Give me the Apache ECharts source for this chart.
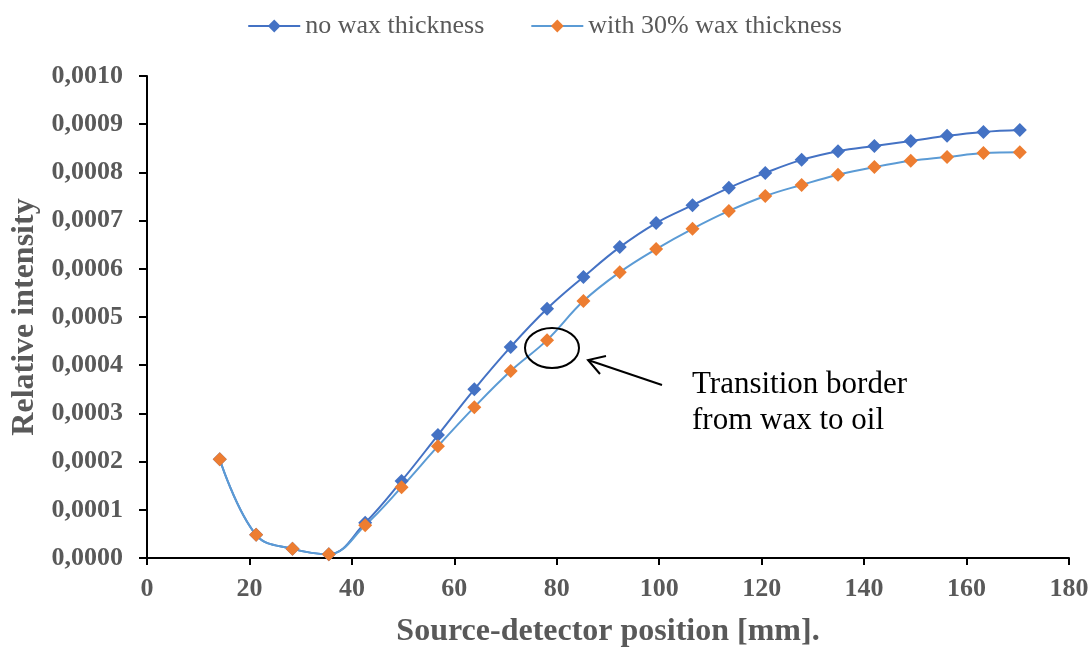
<!DOCTYPE html>
<html>
<head>
<meta charset="utf-8">
<script src="https://cdn.jsdelivr.net/npm/echarts@6/dist/echarts.min.js"></script>
<style>
  html, body { margin: 0; padding: 0; background: #fff; }
  #chart { width: 1089px; height: 648px; }
</style>
</head>
<body>
<div id="chart"></div>
<script>
// source-detector positions (mm)
const positions = [14.2, 21.3, 28.4, 35.5, 42.6, 49.7, 56.8, 63.9, 71.0, 78.1, 85.2, 92.3,
  99.4, 106.5, 113.6, 120.7, 127.8, 134.9, 142.0, 149.1, 156.2, 163.3, 170.4];

// relative intensity
const noWax = [0.000205, 0.000048, 0.000019, 0.000008, 0.000073, 0.000160, 0.000255, 0.000350,
  0.000438, 0.000517, 0.000583, 0.000645, 0.000695, 0.000732, 0.000768, 0.000799, 0.000826,
  0.000844, 0.000855, 0.000865, 0.000876, 0.000884, 0.000888];
const wax30 = [0.000205, 0.000048, 0.000019, 0.000008, 0.000068, 0.000147, 0.000232, 0.000313,
  0.000388, 0.000452, 0.000533, 0.000593, 0.000641, 0.000683, 0.000720, 0.000751, 0.000774,
  0.000795, 0.000811, 0.000824, 0.000832, 0.000840, 0.000842];

const seriesNames = ['no wax thickness', 'with 30% wax thickness'];

const serif = '"Liberation Serif", "Times New Roman", serif';
const grey = '#595959';

const chart = echarts.init(document.getElementById('chart'));

const toPairs = ys => positions.map((x, i) => [x, ys[i]]);

const axisBase = {
  axisLine: { show: true, lineStyle: { color: '#000', width: 2 } },
  splitLine: { show: false },
  nameLocation: 'middle',
  nameTextStyle: { fontFamily: serif, fontWeight: 'bold', fontSize: 32, color: grey }
};

const option = {
  animation: false,
  backgroundColor: '#fff',
  grid: { left: 147, right: 20, top: 76, bottom: 90, containLabel: false, outerBoundsMode: 'none' },
  legend: {
    top: 8,
    left: 'center',
    itemWidth: 52,
    itemHeight: 16,
    itemGap: 46,
    data: seriesNames,
    textStyle: { fontFamily: serif, fontSize: 26, color: grey }
  },
  xAxis: Object.assign({}, axisBase, {
    type: 'value',
    min: 0,
    max: 180,
    interval: 20,
    name: 'Source-detector position [mm].',
    nameGap: 58,
    axisTick: { show: true, length: 7, lineStyle: { color: '#000', width: 2 } },
    axisLabel: { margin: 18, fontFamily: serif, fontWeight: 'bold', fontSize: 26, color: grey }
  }),
  yAxis: Object.assign({}, axisBase, {
    type: 'value',
    min: 0,
    max: 0.001,
    interval: 0.0001,
    name: 'Relative intensity',
    nameGap: 104,
    axisTick: { show: true, length: 8, lineStyle: { color: '#000', width: 2 } },
    axisLabel: {
      margin: 24,
      fontFamily: serif, fontWeight: 'bold', fontSize: 26, color: grey,
      formatter: v => v.toFixed(4).replace('.', ',')
    }
  }),
  series: [
    {
      name: seriesNames[0],
      type: 'line',
      data: toPairs(noWax),
      smooth: 0.4,
      symbol: 'diamond',
      symbolSize: 14,
      lineStyle: { color: '#4472C4', width: 2 },
      itemStyle: { color: '#4472C4' }
    },
    {
      name: seriesNames[1],
      type: 'line',
      data: toPairs(wax30),
      smooth: 0.4,
      symbol: 'diamond',
      symbolSize: 14,
      lineStyle: { color: '#5B9BD5', width: 2 },
      itemStyle: { color: '#ED7D31' }
    }
  ],
  graphic: [
    {
      type: 'ellipse',
      shape: { cx: 552, cy: 348, rx: 27, ry: 20 },
      style: { fill: 'none', stroke: '#000', lineWidth: 2 },
      z: 100
    },
    {
      type: 'polyline',
      shape: { points: [[662, 385], [588, 360]] },
      style: { stroke: '#000', lineWidth: 2 },
      z: 100
    },
    {
      type: 'polyline',
      shape: { points: [[600, 374], [588, 360], [606, 356]] },
      style: { stroke: '#000', lineWidth: 2, fill: 'none' },
      z: 100
    },
    {
      type: 'text',
      left: 692,
      top: 367,
      style: {
        text: 'Transition border\nfrom wax to oil',
        font: '31px ' + serif,
        fill: '#000',
        lineHeight: 36
      },
      z: 100
    }
  ]
};

chart.setOption(option);
</script>
</body>
</html>
